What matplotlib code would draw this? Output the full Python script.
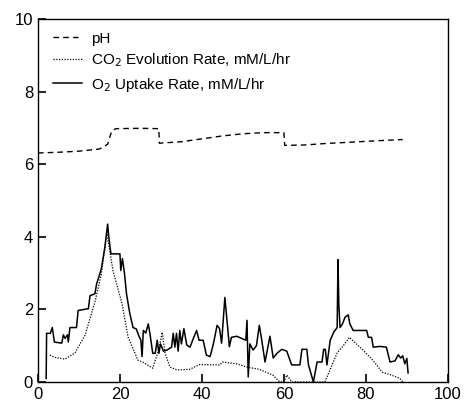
import matplotlib
matplotlib.use("Agg")
import matplotlib.pyplot as plt

plt.rcParams['font.family'] = ['Liberation Sans', 'DejaVu Sans']

ph_x = [0, 5, 10, 15, 17, 18, 19, 25, 29.5, 29.6, 35, 40, 45, 50, 55, 60, 60.2, 65, 70, 75, 80, 85, 89]
ph_y = [6.31, 6.33, 6.36, 6.42, 6.55, 6.92, 6.98, 6.99, 6.98, 6.58, 6.62, 6.70, 6.78, 6.84, 6.87, 6.87,
        6.52, 6.53, 6.57, 6.60, 6.63, 6.66, 6.68]

co2_x = [2.9, 4, 6.6, 9, 11.5, 14, 15.5, 16.8, 18.3, 20.5, 22, 24.4, 25.5, 28, 29.5, 30.3, 31, 32.2, 34, 37,
         39.5, 44.4, 45, 48.5, 51, 54, 57.3, 59, 60, 60.7, 61.3, 62, 70, 73, 74.5, 76, 79.3, 81.7, 84, 86,
         88.3, 89]
co2_y = [0.74, 0.68, 0.63, 0.8, 1.29, 2.25, 3.0, 4.1, 3.07, 2.16, 1.23, 0.6, 0.55, 0.38, 0.9, 1.37, 0.8,
         0.41, 0.33, 0.35, 0.48, 0.47, 0.55, 0.5, 0.41, 0.35, 0.19, 0.0, 0.0, 0.19, 0.1, 0.0, 0.0, 0.8, 1.0,
         1.23, 0.88, 0.6, 0.27, 0.2, 0.1, 0.0]

o2_x = [2.0, 2.1, 3.0, 3.5, 4.0, 5.8, 6.2, 6.6, 7.2, 7.4, 7.8, 9.4, 9.8, 12.3, 12.7, 13.9, 14.3, 15.1, 15.5,
        16.3, 17.0, 17.3, 17.8, 20.0, 20.2, 20.6, 21.1, 21.6, 22.4, 23.2, 24.0, 24.5, 25.1, 25.4, 25.7,
        26.3, 26.9, 27.3, 28.0, 28.6, 29.1, 29.5, 29.9, 30.6, 31.5, 32.6, 33.0, 33.4, 33.8, 34.2, 34.6,
        35.0, 35.6, 36.3, 37.1, 37.9, 38.7, 39.3, 40.3, 41.1, 42.0, 42.8, 43.7, 44.3, 44.8, 45.6, 46.2,
        46.7, 47.2, 48.5, 50.7, 51.0, 51.3, 51.7, 52.5, 53.3, 54.0, 54.6, 55.4, 56.6, 57.4, 58.3, 59.5,
        60.7, 61.9, 63.9, 64.4, 65.6, 66.0, 67.2, 68.1, 69.3, 69.7, 70.1, 70.5, 71.3, 72.2, 73.0, 73.2,
        73.4, 73.7, 74.3, 74.9, 75.7, 76.1, 76.9, 78.9, 80.2, 80.6, 81.4, 81.8, 83.4, 85.0, 85.9, 87.1,
        87.9, 88.5, 89.0, 89.5, 90.0, 90.3]
o2_y = [0.1, 1.34, 1.34, 1.5, 1.1, 1.07, 1.3, 1.2, 1.3, 1.1, 1.5, 1.5, 1.97, 2.02, 2.38, 2.43, 2.7, 2.98, 3.15,
        3.7, 4.35, 3.97, 3.53, 3.53, 3.07, 3.4, 3.0, 2.43, 1.89, 1.5, 1.46, 1.3, 1.15, 0.7, 1.42,
        1.35, 1.6, 1.35, 0.79, 0.79, 1.15, 0.79, 1.05, 0.85, 0.88, 0.96, 1.34, 0.96, 1.34, 0.85, 1.42,
        1.05, 1.47, 1.02, 0.96, 1.2, 1.42, 1.15, 1.15, 0.74, 0.7, 1.05, 1.56, 1.47, 1.07, 2.33, 1.6,
        0.97, 1.23, 1.26, 1.15, 1.7, 0.14, 1.05, 0.88, 1.0, 1.56, 1.15, 0.55, 1.26, 0.66, 0.79, 0.9,
        0.85, 0.47, 0.47, 0.9, 0.9, 0.47, 0.0, 0.55, 0.55, 0.9, 0.9, 0.47, 1.15, 1.38, 1.5, 3.37,
        2.15, 1.5, 1.6, 1.78, 1.85, 1.6, 1.42, 1.42, 1.42, 1.23, 1.23, 0.96, 0.98, 0.96, 0.55, 0.58,
        0.75, 0.66, 0.72, 0.5, 0.65, 0.25]

xticks = [0, 20, 40, 60, 80, 100]
yticks = [0, 2, 4, 6, 8, 10]

fig = plt.figure(figsize=(4.66, 4.11), dpi=100)
ax = fig.add_axes([0.0815, 0.0706, 0.8795, 0.883])

ax.plot(ph_x, ph_y, color='black', linestyle=(0, (4, 3)), linewidth=1.0, label='pH')
ax.plot(co2_x, co2_y, color='black', linestyle=(0, (1, 1.2)), linewidth=0.9,
        label='CO$_2$ Evolution Rate, mM/L/hr')
ax.plot(o2_x, o2_y, color='black', linestyle='-', linewidth=1.1,
        label='O$_2$ Uptake Rate, mM/L/hr')

ax.set_xlim(0, 100)
ax.set_ylim(0, 10)
ax.set_xticks(xticks)
ax.set_yticks(yticks)
ax.tick_params(direction='in', length=6, width=1.2, labelsize=12, colors='black')
for s in ax.spines.values():
    s.set_linewidth(1.0)

leg = ax.legend(loc='upper left', frameon=False, fontsize=11, handlelength=1.9,
                handletextpad=0.6, labelspacing=0.4, borderaxespad=0.3,
                bbox_to_anchor=(0.01, 0.995))

fig.savefig('out.png', dpi=100)
